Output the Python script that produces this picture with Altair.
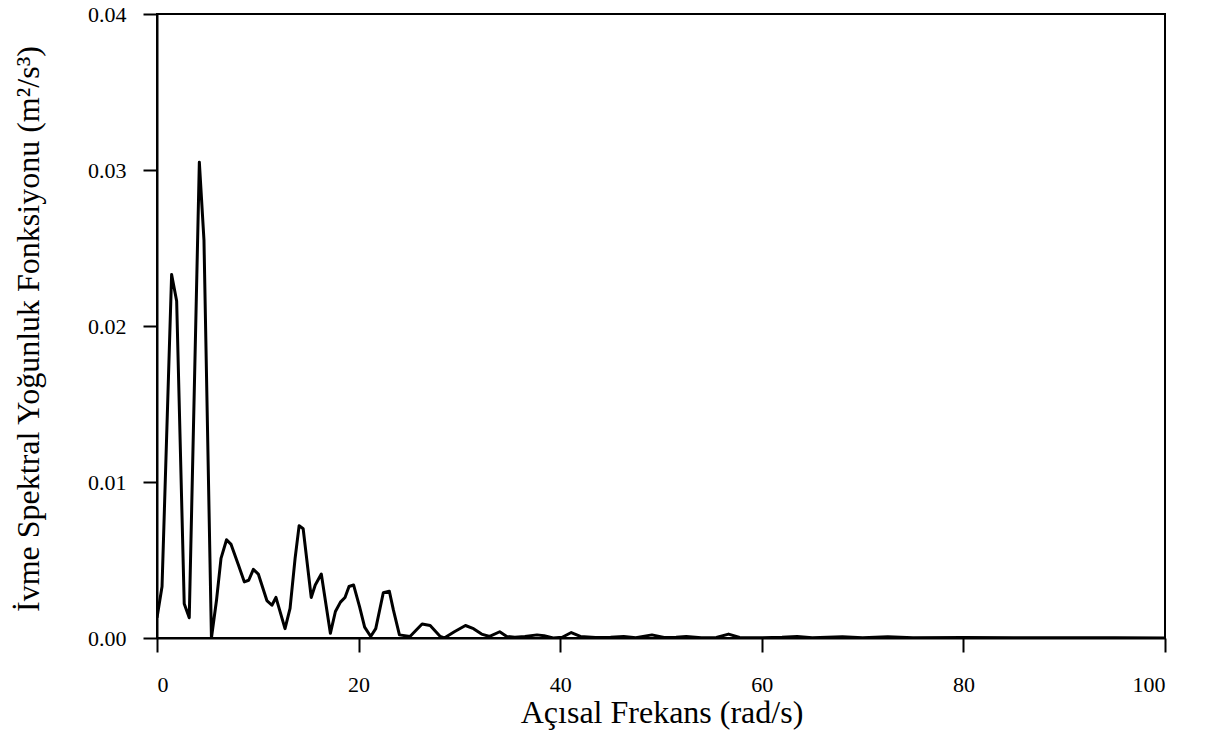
import altair as alt
import pandas as pd

# Angular frequency (rad/s) and acceleration spectral density (m²/s³)
omega = [
    0.0, 0.5, 1.45, 1.95, 2.7, 3.2, 4.2, 4.66, 5.4, 5.9,
    6.35, 6.9, 7.35, 8.07, 8.66, 9.1, 9.56, 10.05, 10.9, 11.4,
    11.8, 12.7, 13.2, 13.7, 14.1, 14.5, 15.3, 15.7, 16.3, 17.2,
    17.7, 18.2, 18.65, 19.05, 19.5, 20.1, 20.6, 21.2, 21.7, 22.45,
    23.05, 23.45, 24.05, 25.1, 25.7, 26.3, 27.1, 28.1, 28.5, 29.5,
    30.6, 31.4, 32.2, 33.0, 34.0, 34.7, 35.5, 36.5, 37.7, 38.4,
    39.3, 40.2, 41.1, 42.0, 43.5, 45.0, 46.3, 47.5, 49.1, 50.3,
    51.5, 52.5, 54.0, 55.5, 56.7, 57.8, 60.0, 62.0, 63.5, 65.0,
    68.0, 70.0, 72.5, 75.0, 80.0, 85.0, 90.0, 95.0, 100.0,
]
psd = [
    0.0013, 0.0033, 0.0233, 0.0216, 0.0022, 0.0013, 0.0305, 0.0255, 0.0, 0.0024,
    0.0051, 0.0063, 0.0060, 0.0047, 0.0036, 0.0037, 0.0044, 0.0041, 0.0024, 0.0021,
    0.0026, 0.0006, 0.0019, 0.0051, 0.0072, 0.0070, 0.0026, 0.0034, 0.0041, 0.0003,
    0.0017, 0.0023, 0.0026, 0.0033, 0.0034, 0.0020, 0.0007, 0.0001, 0.0006, 0.0029,
    0.0030, 0.0018, 0.0002, 0.0001, 0.0005, 0.0009, 0.0008, 0.0001, 0.0, 0.0004,
    0.0008, 0.0006, 0.00025, 0.0001, 0.0004, 0.0001, 0.00005, 0.0001, 0.0002, 0.00015,
    0.0, 0.00005, 0.00035, 0.0001, 0.00003, 0.00005, 0.0001, 0.00002, 0.0002, 0.00003,
    0.00005, 0.0001, 0.00002, 0.00003, 0.00025, 0.00003, 0.00002, 0.00005, 0.0001, 0.00002,
    0.00008, 0.00002, 0.00008, 0.00002, 0.00003, 0.00001, 0.00002, 0.00001, 0.0,
]

x_ticks = [0, 20, 40, 60, 80, 100]
y_ticks = [0.0, 0.01, 0.02, 0.03, 0.04]

df = pd.DataFrame({"omega": omega, "psd": psd})

FONT = "Liberation Serif"

# shared styling for both axes
axis_style = dict(
    grid=False,
    domainColor="black",
    domainWidth=2,
    tickColor="black",
    tickWidth=2,
    tickSize=14,
    labelFont=FONT,
    labelFontSize=22,
    labelColor="black",
    titleFont=FONT,
    titleFontSize=32,
    titleFontWeight="normal",
    titleColor="black",
    titleAlign="center",
    titleBaseline="alphabetic",
)

chart = (
    alt.Chart(df)
    .mark_line(color="black", strokeWidth=3, strokeJoin="round", clip=True)
    .encode(
        x=alt.X(
            "omega:Q",
            scale=alt.Scale(domain=[0, 100], nice=False, zero=False),
            axis=alt.Axis(
                values=x_ticks,
                format="d",
                title="Açısal Frekans (rad/s)",
                labelPadding=22,
                titleX=504.5,
                titleY=84.7,
                **axis_style,
            ),
        ),
        y=alt.Y(
            "psd:Q",
            scale=alt.Scale(domain=[0, 0.04], nice=False),
            axis=alt.Axis(
                values=y_ticks,
                format=".2f",
                title="İvme Spektral Yoğunluk Fonksiyonu (m²/s³)",
                labelPadding=17,
                titleX=-119,
                titleY=314.5,
                titleAngle=270,
                **axis_style,
            ),
        ),
    )
    .properties(
        width=1008,
        height=624,
        padding={"left": 157, "top": 14, "right": 40, "bottom": 102},
        autosize=alt.AutoSizeParams(type="none"),
        background="white",
    )
    .configure_view(stroke="black", strokeWidth=2)
)

chart.save("out.html", embed_options={"renderer": "svg", "actions": False})
